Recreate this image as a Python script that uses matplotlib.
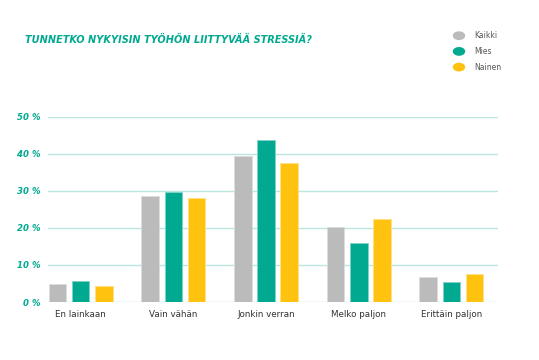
import numpy as np
import matplotlib.pyplot as plt

categories = ["En lainkaan", "Vain vähän", "Jonkin verran", "Melko paljon", "Erittäin paljon"]
kaikki = [4.8, 28.7, 39.4, 20.2, 6.7]
mies = [5.6, 29.7, 43.6, 15.8, 5.3]
nainen = [4.3, 28.1, 37.5, 22.5, 7.5]
series = ["Kaikki", "Mies", "Nainen"]
colors = ["#bbbbbb", "#00a98f", "#ffc20e"]
edges = ["#dcdcdc", "#7fd4c6", "#ffe08a"]
yticks = [0, 10, 20, 30, 40, 50]

green = "#00a98f"
# condensed bold italic, closest thing to the original display font
title_font = dict(family="DejaVu Sans", stretch="condensed", weight="bold", style="italic")

fig = plt.figure(figsize=(5.39, 3.6), dpi=100)
ax = fig.add_axes([47.7 / 539, 1 - 302 / 360, 450 / 539, (302 - 116.7) / 360])

x = np.arange(len(categories))
w = 0.19
off = 0.25
for i, (vals, c, ec) in enumerate(zip([kaikki, mies, nainen], colors, edges)):
    ax.bar(x + (i - 1) * off, vals, width=w, color=c, edgecolor=ec, linewidth=0.6, zorder=3)

ax.set_xlim(-0.356, 4.5)
ax.set_ylim(0, 50)
ax.set_yticks(yticks)
ax.set_yticklabels([f"{t} %" for t in yticks], color=green, fontsize=6.8, **title_font)
ax.set_xticks(x)
ax.set_xticklabels(categories, fontsize=6.3, color="#333333")
ax.tick_params(length=0)
ax.tick_params(axis="y", pad=5)
ax.tick_params(axis="x", pad=6)
ax.grid(axis="y", color="#b9e6df", linewidth=1, zorder=0)
ax.set_axisbelow(True)
for s in ax.spines.values():
    s.set_visible(False)

fig.text(25 / 539, 1 - 40 / 360, "TUNNETKO NYKYISIN TYÖHÖN LIITTYVÄÄ STRESSIÄ?",
         color=green, fontsize=7.8, va="center", ha="left", **title_font)

for i, (name, c) in enumerate(zip(series, colors)):
    yy = 1 - (35.7 + i * 15.7) / 360
    fig.patches.append(plt.Circle((459 / 539, yy), 5.5 / 539, color=c,
                                  transform=fig.transFigure, figure=fig))
    fig.text(474 / 539, yy, name, fontsize=5.5, color="#555555", va="center", ha="left")

fig.savefig("out.png", dpi=100)
